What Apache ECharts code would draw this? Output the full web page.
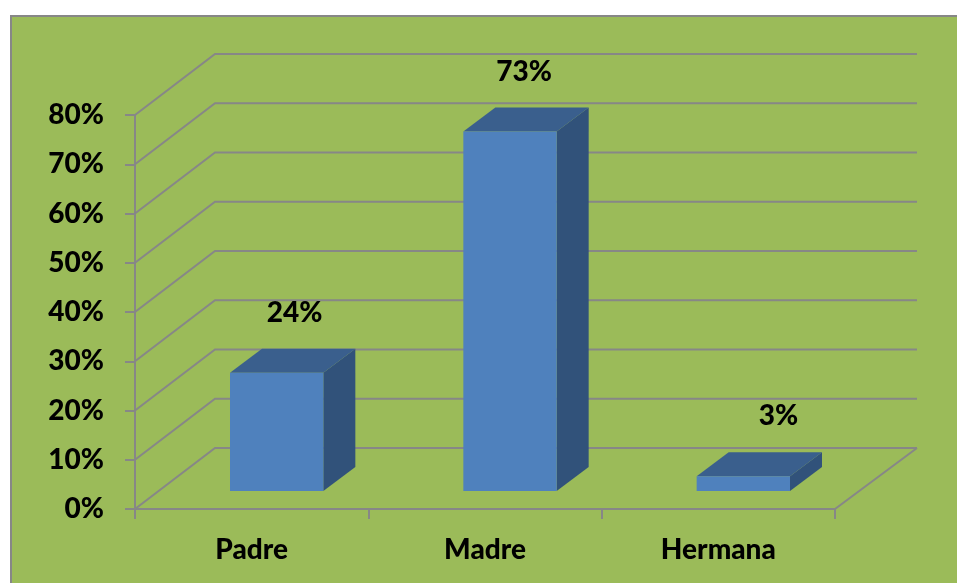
<!DOCTYPE html>
<html><head><meta charset="utf-8">
<script src="https://cdn.jsdelivr.net/npm/echarts@6/dist/echarts.min.js"></script>
<style>html,body{margin:0;padding:0;background:#fff}#c{width:957px;height:583px}</style>
</head><body><div id="c"></div>
<script>
const categories = ['Padre', 'Madre', 'Hermana'];
const values = [24, 73, 3];
const yTicks = [0, 10, 20, 30, 40, 50, 60, 70, 80];

const FONT = 'Lato';
const FW = 900;
const FS = 28;
const GRAY = '#878787';
const DEPTH = [80, -61];      // back wall offset
const FRONT = [24, -18];      // bar front plane offset
const BAR_D = [32, -24];      // bar depth
const labelShiftX = [2, -2, 19];

const chart = echarts.init(document.getElementById('c'), null, {renderer: 'canvas'});
chart.setOption({
  backgroundColor: '#ffffff',
  animation: false,
  graphic: [{
    type: 'rect', left: 10, top: 15, z: -10,
    shape: {x: 0, y: 0, width: 960, height: 580},
    style: {fill: '#9BBB59', stroke: GRAY, lineWidth: 2}
  }],
  grid: {left: 135, top: 115, width: 700, height: 394},
  xAxis: {
    type: 'category', data: categories,
    axisLine: {lineStyle: {color: GRAY, width: 2}},
    axisTick: {show: true, length: 10, lineStyle: {color: GRAY, width: 2}},
    axisLabel: {margin: 27, color: '#000', fontFamily: FONT, fontWeight: FW, fontSize: FS},
    splitLine: {show: false}
  },
  yAxis: {
    type: 'value', min: 0, max: 80, interval: 10,
    axisLine: {show: true, lineStyle: {color: GRAY, width: 2}},
    axisTick: {show: true, length: 10, lineStyle: {color: GRAY, width: 2}},
    axisLabel: {margin: 31, formatter: '{value}%', color: '#000', fontFamily: FONT, fontWeight: FW, fontSize: FS},
    splitLine: {show: false}
  },
  series: [{
    type: 'custom', z: 1, clip: false, silent: true,
    data: yTicks.map(t => [0, t]),
    renderItem: function (params, api) {
      const cs = params.coordSys;
      const yf = api.coord([0, api.value(1)])[1];
      const x0 = cs.x, x1 = cs.x + cs.width;
      const children = [{
        type: 'polyline',
        shape: {points: [[x0, yf], [x0 + DEPTH[0], yf + DEPTH[1]], [x1 + DEPTH[0] + 2, yf + DEPTH[1]]]},
        style: {stroke: GRAY, lineWidth: 2, fill: null}
      }];
      if (api.value(1) === 0) {
        children.push({
          type: 'line',
          shape: {x1: x1, y1: yf, x2: x1 + DEPTH[0] + 2, y2: yf + DEPTH[1]},
          style: {stroke: GRAY, lineWidth: 2}
        });
      }
      return {type: 'group', children: children};
    }
  }, {
    type: 'custom', z: 2, clip: false,
    data: values.map((v, i) => [i, v]),
    renderItem: function (params, api) {
      const i = api.value(0), v = api.value(1);
      const top = api.coord([i, v]);
      const base = api.coord([i, 0]);
      const bw = api.size([1, 0])[0] * 0.4;
      const cx = top[0] + FRONT[0] + 1;
      const xa = cx - bw / 2, xb = cx + bw / 2;
      const yt = top[1] + FRONT[1], yb = base[1] + FRONT[1];
      const dx = BAR_D[0], dy = BAR_D[1];
      return {type: 'group', children: [
        {type: 'polygon', shape: {points: [[xb, yt], [xb + dx, yt + dy], [xb + dx, yb + dy], [xb, yb]]},
          style: {fill: '#31527A'}},
        {type: 'polygon', shape: {points: [[xa, yt], [xb, yt], [xb + dx, yt + dy], [xa + dx, yt + dy]]},
          style: {fill: '#3A5F8D'}},
        {type: 'rect', shape: {x: xa, y: yt, width: bw, height: yb - yt},
          style: {fill: '#4F81BD'}},
        {type: 'text', x: cx + dx / 2 + labelShiftX[i], y: yt + dy - 36,
          style: {text: v + '%', fill: '#000', font: FW + ' ' + FS + 'px ' + FONT, align: 'center', verticalAlign: 'middle'}}
      ]};
    }
  }]
});
</script></body></html>
